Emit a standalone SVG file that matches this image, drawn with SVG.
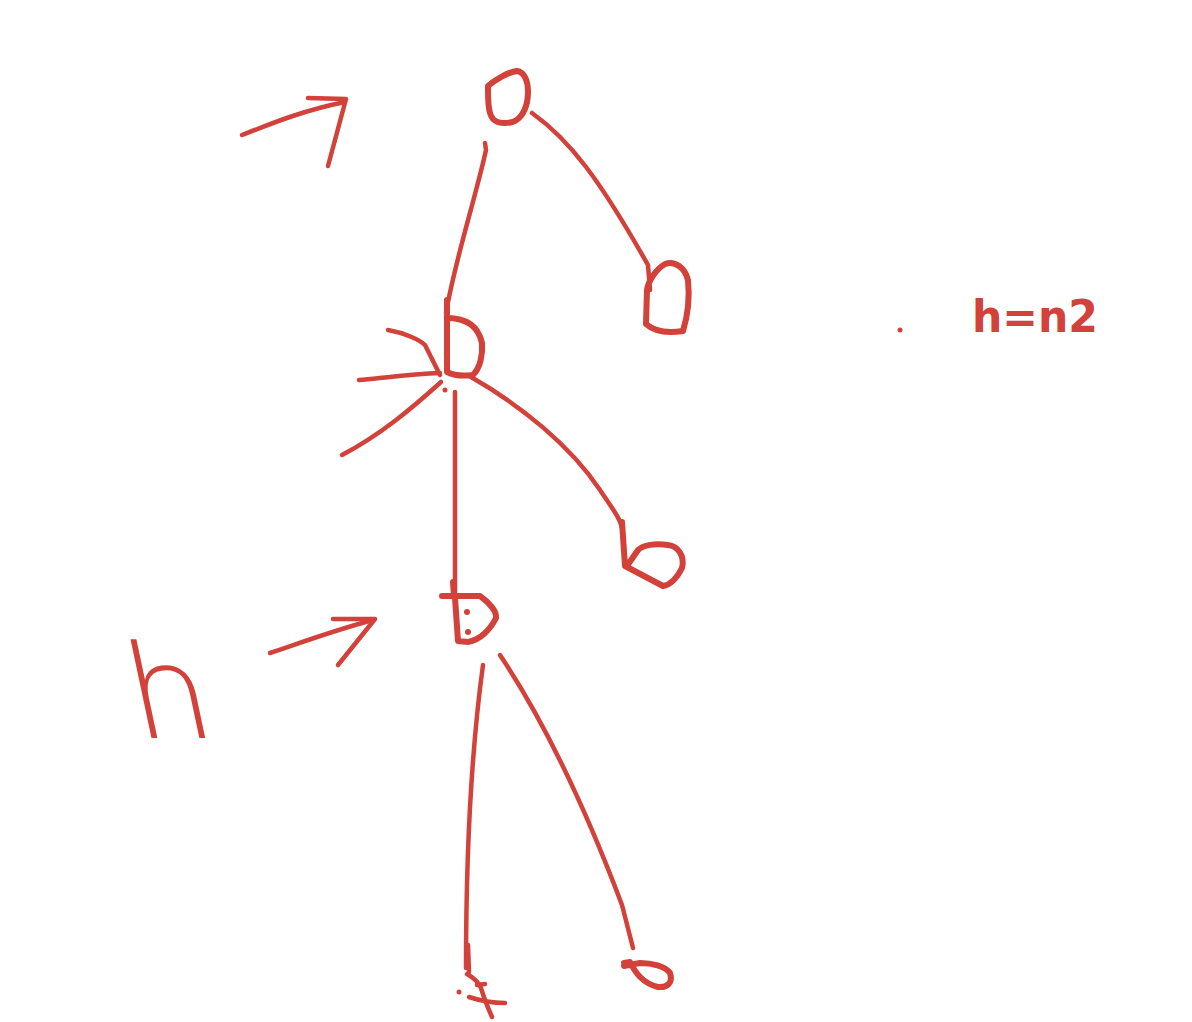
<svg xmlns="http://www.w3.org/2000/svg" width="1192" height="1022" viewBox="0 0 1192 1022">
<style>
.s{fill:none;stroke:#d2423a;stroke-width:4.5;stroke-linecap:round;stroke-linejoin:round}
.n{fill:none;stroke:#d2423a;stroke-width:6;stroke-linecap:round;stroke-linejoin:round}
.d{fill:#d2423a}
.t{fill:#d2423a}
</style>
<rect width="1192" height="1022" fill="#ffffff"/>
<g id="connectors">
<path class="s" d="M485,143 L486,150 C475,200 455,260 446,313"/>
<path class="s" d="M532,113 C570,140 600,180 648,265 L650,290"/>
<path class="s" d="M471,377 C520,405 570,445 600,490 C612,508 620,518 622,528"/>
<path class="s" d="M455,392 L455,598"/>
<path class="s" d="M483,665 C470,760 466,860 466,968"/>
<path class="s" d="M500,655 C550,730 590,820 622,905 L633,948"/>
<path class="s" d="M388,330 C405,333 420,340 425,345 C430,355 435,365 440,375"/>
<path class="s" d="M359,380 C390,377 415,374 440,373"/>
<path class="s" d="M342,455 C380,435 410,410 441,382"/>
<circle class="d" cx="445" cy="390" r="2.5"/>
<path class="s" d="M242,135 C275,122 305,110 345,102"/>
<path class="s" d="M308,98 L346,99 L328,166"/>
<path class="s" d="M270,653 C300,643 335,630 373,620"/>
<path class="s" d="M333,619 L375,619 L338,665"/>
</g>
<g id="node-root">
<path class="n" d="M488,86 C495,80 508,72 517,71 C524,72 528,80 528,92 C528,104 524,116 515,121 C508,124 498,124 493,119 C488,113 488,100 488,86 Z"/>
</g>
<g id="node-right1">
<path class="n" d="M647,290 L646,324 C655,332 670,333 683,331 C687,318 690,300 688,280 C685,268 675,260 665,264 C655,270 648,282 647,290 Z"/>
</g>
<g id="node-mid">
<path class="n" d="M447,300 L447,372 C455,376 465,376 473,375 C480,368 483,355 482,343 C478,325 465,318 447,318"/>
</g>
<g id="node-right2">
<path class="n" d="M622,522 L625,566 L663,586 C670,585 676,580 682,568 C685,556 678,546 668,545 C655,543 643,545 638,550 L627,566"/>
</g>
<g id="node-lower">
<path class="n" d="M453,582 L454,596 M442,596 L480,596 C490,603 497,612 496,618 C490,630 480,640 468,642 L458,641 L455,598"/>
<circle class="d" cx="467" cy="612" r="3"/>
<circle class="d" cx="468" cy="632" r="3"/>
</g>
<g id="node-bottom-left">
<path class="s" d="M468,945 L469,972"/>
<path class="s" d="M467,974 C474,978 479,983 481,988 C484,998 488,1008 492,1017"/>
<path class="s" d="M469,997 C478,1000 488,1003 505,1003"/>
<path class="s" d="M477,985 L485,984"/>
<circle class="d" cx="459" cy="992" r="2.5"/>
</g>
<g id="node-bottom-right">
<path class="n" d="M624,963 L630,962 C635,972 642,983 658,987 C668,988 673,982 670,973 C665,966 652,963 640,963 L624,966"/>
</g>
<g id="labels">
<circle class="d" cx="900" cy="330" r="2.5"/>
<text class="t" x="972" y="332" font-family="'DejaVu Sans',sans-serif" font-weight="bold" font-size="44" textLength="126" lengthAdjust="spacingAndGlyphs">h=n2</text>
<text class="t" x="-20" y="738" font-family="'DejaVu Sans',sans-serif" font-weight="200" font-size="130" transform="skewX(12)">h</text>
</g>
</svg>
